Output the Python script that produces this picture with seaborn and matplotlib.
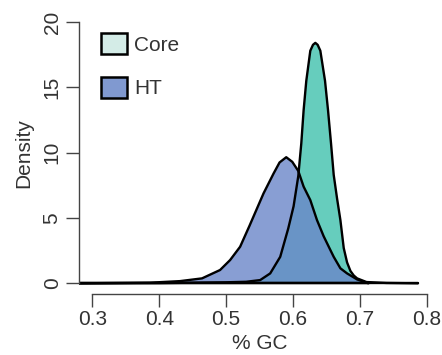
import matplotlib
matplotlib.use("Agg")
from matplotlib import pyplot as plt
from matplotlib.patches import Patch
import seaborn as sns

# density curves (x = fraction GC, y = density)
core_x = [0.28, 0.40, 0.50, 0.53, 0.551, 0.566, 0.581, 0.593, 0.601, 0.608, 0.6125, 0.616,
          0.620, 0.626, 0.630, 0.6335, 0.637, 0.641, 0.648, 0.6525, 0.657, 0.661, 0.666,
          0.671, 0.676, 0.681, 0.686, 0.691, 0.696, 0.71, 0.74, 0.787]
core_y = [0.0, 0.02, 0.08, 0.12, 0.25, 0.76, 2.03, 4.2, 5.9, 8.2, 10.7, 13.25,
          15.5, 17.8, 18.25, 18.4, 18.25, 17.8, 15.5, 13.25, 10.7, 8.3, 6.5,
          4.84, 2.7, 1.6, 0.95, 0.6, 0.38, 0.1, 0.03, 0.0]

ht_x = [0.28, 0.386, 0.431, 0.464, 0.491, 0.506, 0.521, 0.535, 0.546, 0.556, 0.571, 0.580,
        0.590, 0.599, 0.608, 0.616, 0.626, 0.636, 0.646, 0.656, 0.661, 0.671, 0.681,
        0.696, 0.713]
ht_y = [0.0, 0.05, 0.17, 0.38, 1.02, 1.78, 2.8, 4.4, 5.7, 6.88, 8.4, 9.25,
        9.65, 9.3, 8.6, 7.4, 6.37, 4.84, 3.6, 2.55, 2.03, 1.15, 0.76,
        0.3, 0.0]

labels = ["Core", "HT"]
xticks = [0.3, 0.4, 0.5, 0.6, 0.7, 0.8]
yticks = [0, 5, 10, 15, 20]

core_col = "#66cdbd"
ht_col = (106 / 255, 134 / 255, 201 / 255, 0.8)
legend_cols = ["#d4ece7", "#8099d0"]
ink = "#333333"

sns.set_style("ticks")
plt.rcParams["font.family"] = ["Liberation Sans", "DejaVu Sans"]
plt.rcParams["font.size"] = 15

fig = plt.figure(figsize=(4.42, 3.55), dpi=100)
ax = fig.add_axes([79 / 442, 1 - 293.8 / 355, 361 / 442, 282.3 / 355])

# core first, opaque, then HT semi-transparent on top
ax.fill_between(core_x, core_y, 0, facecolor=core_col, edgecolor="none")
sns.lineplot(x=core_x, y=core_y, color="black", lw=1.7, ax=ax, sort=False)
sns.lineplot(x=[core_x[0], core_x[-1]], y=[0, 0], color="black", lw=1.7, ax=ax)
ax.fill_between(ht_x, ht_y, 0, facecolor=ht_col, edgecolor="none")
sns.lineplot(x=ht_x, y=ht_y, color="black", lw=1.7, ax=ax, sort=False)
sns.lineplot(x=[ht_x[0], ht_x[-1]], y=[0, 0], color="black", lw=1.7, ax=ax)

ax.set_xlim(0.28, 0.82)
ax.set_ylim(-0.8, 20.8)
ax.set_xticks(xticks)
ax.set_xticklabels([f"{t:.1f}" for t in xticks])
ax.set_yticks(yticks)
ax.set_yticklabels([str(t) for t in yticks], rotation=90, va="center")
for s in ["top", "right"]:
    ax.spines[s].set_visible(False)
ax.spines["left"].set_bounds(0, 20)
ax.spines["bottom"].set_bounds(0.3, 0.8)
for s in ["left", "bottom"]:
    ax.spines[s].set_color("#444444")
    ax.spines[s].set_linewidth(1.0)
ax.tick_params(axis="both", direction="out", length=9.5, width=1.0, color="#444444",
               labelcolor=ink, labelsize=15)
ax.tick_params(axis="y", pad=3)
ax.tick_params(axis="x", pad=2)
ax.set_xlabel("% GC", color=ink, fontsize=15, labelpad=4)
ax.set_ylabel("Density", color=ink, fontsize=15, labelpad=7)

handles = [Patch(facecolor=c, edgecolor="black", linewidth=1.8) for c in legend_cols]
ax.legend(handles, labels, loc="upper left", bbox_to_anchor=(101 / 442, 1 - 33 / 355),
          bbox_transform=fig.transFigure, frameon=False, fontsize=15,
          handlelength=1.25, handleheight=1.2, handletextpad=0.35,
          labelspacing=1.06, borderpad=0, borderaxespad=0, labelcolor=ink)

fig.savefig("out.png", dpi=100)
